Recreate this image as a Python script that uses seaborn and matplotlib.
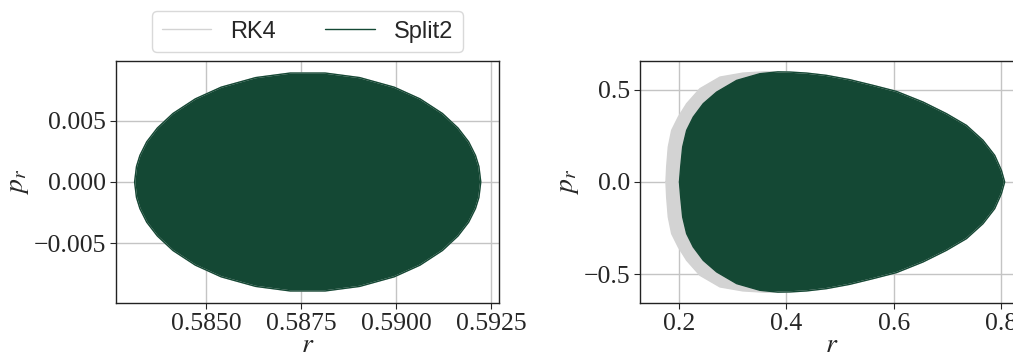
import pandas as pd
import seaborn as sns
import matplotlib.pyplot as plt

# outlines of the phase-space regions (r, p_r)
# left panel: near-circular orbit, RK4 and Split2 coincide
left_r_up = [0.58311, 0.58316, 0.58325, 0.58343, 0.58371, 0.58412, 0.58471, 0.58539,
             0.58630, 0.58721, 0.58813, 0.58904, 0.58995, 0.59063, 0.59122, 0.59163,
             0.59191, 0.59209, 0.59218, 0.59223]
left_p_up = [0.0, 0.00126, 0.00216, 0.00327, 0.00439, 0.00557, 0.00676, 0.00771,
             0.00849, 0.00886, 0.00886, 0.00849, 0.00771, 0.00676, 0.00557, 0.00439,
             0.00327, 0.00216, 0.00126, 0.0]
left_r_lo = [0.59218, 0.59209, 0.59191, 0.59163, 0.59122, 0.59063, 0.58995, 0.58904,
             0.58813, 0.58721, 0.58630, 0.58539, 0.58471, 0.58412, 0.58371, 0.58343,
             0.58325, 0.58316, 0.58311]
left_p_lo = [-0.00126, -0.00216, -0.00327, -0.00439, -0.00557, -0.00676, -0.00771, -0.00849,
             -0.00886, -0.00886, -0.00849, -0.00771, -0.00676, -0.00557, -0.00439, -0.00327,
             -0.00216, -0.00126, 0.0]

# right panel: eccentric orbit
split_r_up = [0.2009, 0.2032, 0.2069, 0.2143, 0.2266, 0.2452, 0.2701, 0.3073, 0.3506,
              0.3840, 0.4063, 0.4374, 0.4745, 0.5178, 0.5611, 0.6046, 0.6541, 0.6976,
              0.7348, 0.7656, 0.7873, 0.7998, 0.8059]
split_p_up = [0.0, 0.0813, 0.1896, 0.2801, 0.3521, 0.4247, 0.4875, 0.5509, 0.5872,
              0.5970, 0.5960, 0.5905, 0.5780, 0.5547, 0.5238, 0.4913, 0.4334, 0.3705,
              0.3071, 0.2259, 0.1446, 0.0634, 0.0]
split_r_lo = [0.7998, 0.7873, 0.7656, 0.7348, 0.6976, 0.6541, 0.6046, 0.5611, 0.5178,
              0.4745, 0.4374, 0.4063, 0.3840, 0.3506, 0.3073, 0.2701, 0.2452, 0.2266,
              0.2143, 0.2069, 0.2032, 0.2009]
split_p_lo = [-0.0634, -0.1446, -0.2259, -0.3071, -0.3705, -0.4334, -0.4913, -0.5238, -0.5547,
              -0.5780, -0.5905, -0.5960, -0.5970, -0.5872, -0.5509, -0.4875, -0.4247, -0.3521,
              -0.2801, -0.1896, -0.0813, 0.0]

rk4_r_up = [0.1758, 0.1771, 0.1801, 0.1864, 0.1987, 0.2143, 0.2390, 0.2762, 0.3190,
            0.3600, 0.4063, 0.4374, 0.4745, 0.5178, 0.5611, 0.6046, 0.6541, 0.6976,
            0.7348, 0.7656, 0.7873, 0.7998, 0.8059]
rk4_p_up = [0.0, 0.0813, 0.1896, 0.2801, 0.3521, 0.4247, 0.5059, 0.5688, 0.5905,
            0.5975, 0.5960, 0.5905, 0.5780, 0.5547, 0.5238, 0.4913, 0.4334, 0.3705,
            0.3071, 0.2259, 0.1446, 0.0634, 0.0]
rk4_r_lo = [0.7998, 0.7873, 0.7656, 0.7348, 0.6976, 0.6541, 0.6046, 0.5611, 0.5178,
            0.4745, 0.4374, 0.4063, 0.3600, 0.3190, 0.2762, 0.2390, 0.2143, 0.1987,
            0.1864, 0.1801, 0.1771, 0.1758]
rk4_p_lo = [-0.0634, -0.1446, -0.2259, -0.3071, -0.3705, -0.4334, -0.4913, -0.5238, -0.5547,
            -0.5780, -0.5905, -0.5960, -0.5975, -0.5905, -0.5688, -0.5059, -0.4247, -0.3521,
            -0.2801, -0.1896, -0.0813, 0.0]

rk4_color = '#d3d3d3'
split_color = '#144834'

sns.set_style('whitegrid', {'grid.color': '#c4c4c4', 'axes.edgecolor': '#222222',
                            'xtick.bottom': True, 'ytick.left': True})
plt.rcParams['font.family'] = ['Liberation Serif', 'DejaVu Serif']
plt.rcParams['mathtext.fontset'] = 'stix'
plt.rcParams['axes.linewidth'] = 1.0


def outline(r_up, p_up, r_lo, p_lo):
    return pd.DataFrame({'r': r_up + r_lo, 'p_r': p_up + p_lo})


panels = [
    (outline(left_r_up, left_p_up, left_r_lo, left_p_lo),
     outline(left_r_up, left_p_up, left_r_lo, left_p_lo)),
    (outline(rk4_r_up, rk4_p_up, rk4_r_lo, rk4_p_lo),
     outline(split_r_up, split_p_up, split_r_lo, split_p_lo)),
]

fig = plt.figure(figsize=(10.13, 3.58), dpi=100)
ax1 = fig.add_axes([116 / 1013, 55 / 358, 383 / 1013, 242 / 358])
ax2 = fig.add_axes([640 / 1013, 55 / 358, 383 / 1013, 242 / 358])

for ax, (rk4, split) in zip([ax1, ax2], panels):
    ax.set_axisbelow(True)
    ax.fill(rk4['r'], rk4['p_r'], color=rk4_color, lw=0)
    sns.lineplot(data=rk4, x='r', y='p_r', sort=False, estimator=None,
                 color=rk4_color, lw=1, label='RK4', ax=ax)
    ax.fill(split['r'], split['p_r'], color=split_color, lw=0)
    sns.lineplot(data=split, x='r', y='p_r', sort=False, estimator=None,
                 color=split_color, lw=1, label='Split2', ax=ax)
    ax.set_xlabel('$r$', fontsize=20, labelpad=-1)
    ax.set_ylabel('$p_r$', fontsize=20, labelpad=2)
    ax.tick_params(labelsize=18.5, pad=3, length=4, width=0.8)
    ax.grid(True, lw=1.0)

ax1.set_xlim(0.58262, 0.59271)
ax1.set_ylim(-0.00984, 0.00984)
ax1.set_xticks([0.5850, 0.5875, 0.5900, 0.5925])
ax1.set_xticklabels(['0.5850', '0.5875', '0.5900', '0.5925'])
ax1.set_yticks([-0.005, 0.0, 0.005])
ax1.set_yticklabels(['\u22120.005', '0.000', '0.005'])

ax2.set_xlim(0.1275, 0.84)
ax2.set_ylim(-0.656, 0.656)
ax2.set_xticks([0.2, 0.4, 0.6, 0.8])
ax2.set_xticklabels(['0.2', '0.4', '0.6', '0.8'])
ax2.set_yticks([-0.5, 0.0, 0.5])
ax2.set_yticklabels(['\u22120.5', '0.0', '0.5'])
ax2.get_legend().remove()

leg = ax1.legend(loc='lower center', bbox_to_anchor=(0.5, 1.037), borderaxespad=0,
                 ncol=2, frameon=True, handlelength=2.1, columnspacing=2.1,
                 prop={'family': 'Liberation Sans', 'size': 17})
leg.get_frame().set_edgecolor('#d0d0d0')

fig.savefig('out.png', dpi=100)
